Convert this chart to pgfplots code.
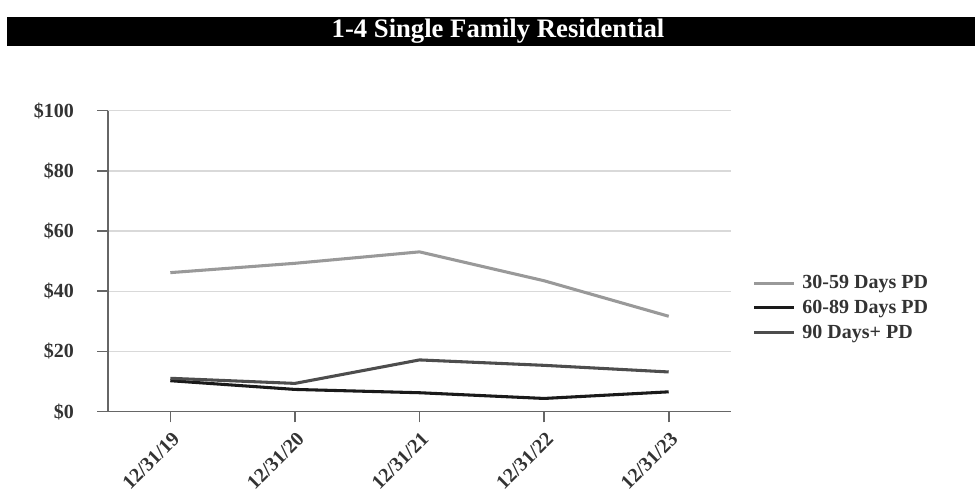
\documentclass[border=0pt]{standalone}
\usepackage{pgfplots}
\pgfplotsset{compat=1.18}
\usepackage{fontspec}
\setmainfont{Liberation Serif}
\definecolor{txt}{HTML}{333333}
\definecolor{axisgray}{HTML}{666666}
\definecolor{gridgray}{HTML}{D9D9D9}
\definecolor{s1}{HTML}{999999}
\definecolor{s2}{HTML}{1A1A1A}
\definecolor{s3}{HTML}{4D4D4D}
\begin{document}
\begin{tikzpicture}
% page frame and title bar (pixel sizes * 0.75pt)
\path (0,0) rectangle (735pt,369.75pt);
\fill[black] (5.25pt,335.25pt) rectangle (731.25pt,357pt);
\node[white,font=\fontsize{20}{23}\selectfont\bfseries] at (373.5pt,346.3pt) {1-4 Single Family Residential};
\begin{axis}[
    at={(81pt,60.98pt)}, anchor=south west,
    scale only axis,
    width=467.25pt, height=225.75pt,
    xmin=-0.5, xmax=4.5,
    ymin=0, ymax=100,
    xtick={0,1,2,3,4},
    xticklabels={12/31/19,12/31/20,12/31/21,12/31/22,12/31/23},
    ytick={0,20,40,60,80,100},
    yticklabels={\$0,\$20,\$40,\$60,\$80,\$100},
    axis x line*=bottom, axis y line*=left,
    axis line style={axisgray,line width=1.2pt,-},
    tick align=outside,
    major tick length=8pt,
    tick style={axisgray,line width=1.2pt},
    ymajorgrids=true,
    grid style={gridgray,line width=1pt},
    ticklabel style={font=\fontsize{15}{18}\selectfont\bfseries,text=txt},
    xticklabel style={rotate=45,anchor=north east,inner sep=1pt,xshift=-3pt,yshift=-4pt},
    yticklabel style={xshift=-14pt},
    legend style={at={(rel axis cs:1.028,0.345)},anchor=west,draw=none,fill=none,
        font=\fontsize{15}{17}\selectfont\bfseries,text=txt,row sep=3pt},
    legend cell align=left,
    legend image code/.code={\draw[#1] (0pt,0pt) -- (30pt,0pt); \path (33pt,0pt);},
]
\addplot[s1,line width=2.3pt] coordinates {(0,46.2) (1,49.3) (2,53.1) (3,43.5) (4,31.7)};
\addplot[s2,line width=2.3pt] coordinates {(0,10.3) (1,7.4) (2,6.3) (3,4.4) (4,6.6)};
\addplot[s3,line width=2.3pt] coordinates {(0,11.1) (1,9.4) (2,17.2) (3,15.4) (4,13.2)};
\legend{30-59 Days PD,60-89 Days PD,90 Days+ PD}
\end{axis}
\end{tikzpicture}
\end{document}
